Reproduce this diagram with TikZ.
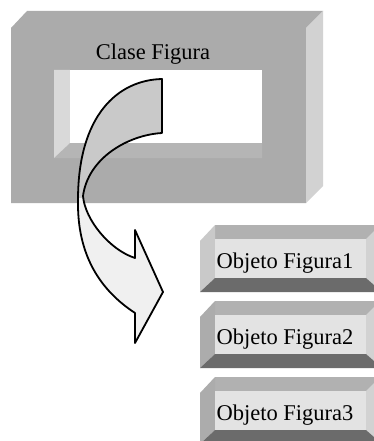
\documentclass[tikz,border=0pt]{standalone}
\usepackage{fontspec}
\setmainfont{Liberation Serif}
\begin{document}
\begin{tikzpicture}[x=1pt,y=-1pt,
  facefront/.style={fill=gray!66,draw=none},
  facetop/.style={fill=gray!90!black!60,draw=none},
  faceside/.style={fill=gray!35,draw=none},
  holewall/.style={fill=gray!30,draw=none},
  holefloor/.style={fill=gray!95!black!55,draw=none},
  boxtop/.style={fill=gray!78!black!50,draw=none},
  boxfront/.style={fill=gray!22,draw=none},
  boxbottom/.style={fill=black!58,draw=none},
  boxleftlight/.style={fill=gray!42,draw=none},
  boxleftmid/.style={fill=gray!65,draw=none},
  boxright/.style={fill=gray!35,draw=none},
  label/.style={font=\fontsize{22.5}{26}\selectfont,inner sep=0pt,text=black},
  arrowline/.style={draw=black,line width=1.8pt,line join=round}]
\useasboundingbox (0,0) rectangle (374,441);
\fill[white] (0,0) rectangle (374,441);

% class frame: front face with a rectangular opening
\fill[facefront,even odd rule] (11,28) rectangle (306,203) (54,70) rectangle (262,158);
\fill[facetop] (11,28) -- (27,11) -- (323,11) -- (306,28) -- cycle;
\fill[faceside] (306,28) -- (323,11) -- (323,186) -- (306,203) -- cycle;
% inner walls of the opening
\fill[holewall] (54,70) -- (70,70) -- (70,143) -- (54,158) -- cycle;
\fill[holefloor] (54,158) -- (70,143) -- (262,143) -- (262,158) -- cycle;
\fill[white] (70,70) rectangle (262,143);
\node[label,anchor=base] (clase) at (153,60) {Clase Figura};

% curved arrow leaving the class
\def\arrowpath{(162,79) -- (162,133)
  .. controls (128,135) and (88,158) .. (83,196)
  .. controls (85,220) and (110,250) .. (135,258)
  -- (135,230) -- (163,292) -- (135,343) -- (135,313)
  .. controls (100,290) and (77,255) .. (78,200)
  .. controls (78,115) and (118,80) .. (162,79) -- cycle}
\fill[gray!12] \arrowpath;
\begin{scope}
  \clip (0,0) rectangle (374,197);
  \fill[gray!42] \arrowpath;
\end{scope}
\draw[arrowline] \arrowpath;

% object boxes
\foreach \t/\n/\lft in {225/1/boxleftlight,301/2/boxleftmid,377/3/boxleftmid}{
  \fill[boxtop] (215,\t) rectangle (374,\t+14);
  \fill[\lft] (200,\t+16) -- (215,\t) -- (215,\t+53) -- (200,\t+67) -- cycle;
  \fill[boxfront] (215,\t+14) rectangle (366,\t+53);
  \fill[boxright] (366,\t+14) -- (374,\t+6) -- (374,\t+60) -- (366,\t+53) -- cycle;
  \fill[boxbottom] (200,\t+67) -- (215,\t+53) -- (366,\t+53) -- (374,\t+60) -- (374,\t+67) -- cycle;
  \node[label,anchor=base] (obj\n) at (285,\t+43) {Objeto Figura\n};
}
\end{tikzpicture}
\end{document}
